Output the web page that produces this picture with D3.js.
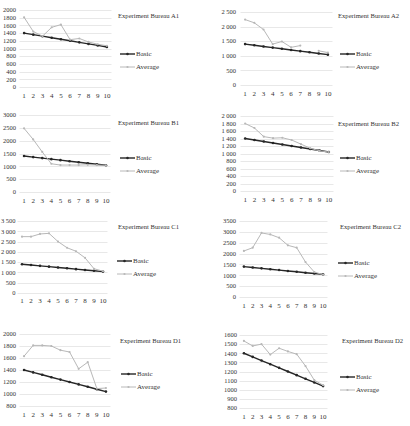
<!DOCTYPE html>
<html>
<head>
<meta charset="utf-8">
<script src="https://cdn.jsdelivr.net/npm/d3@7"></script>
<style>
  body { margin: 0; background: #fff; }
  svg text { font-family: "Liberation Serif", "DejaVu Serif", serif; fill: #333; }
</style>
</head>
<body>
<div id="chart"></div>
<script>
// iteration steps on the x axis
const steps = [1, 2, 3, 4, 5, 6, 7, 8, 9, 10];

// the "Basic" series is the same in every panel
const basic = [1400, 1360, 1320, 1280, 1240, 1200, 1160, 1120, 1080, 1040];

// "Average" series, one per experiment bureau (null = no value)
const avgA1 = [1810, 1440, 1320, 1550, 1620, 1230, 1260, 1170, 1110, 1070];
const avgA2 = [2240, 2130, 1900, 1400, 1490, 1290, 1350, null, 1170, 1110];
const avgB1 = [2480, 2050, 1560, 1100, 1050, 1050, 1050, 1060, 1050, 1040];
const avgB2 = [1800, 1680, 1450, 1410, 1420, 1360, 1250, 1140, 1070, 1040];
const avgC1 = [2740, 2740, 2870, 2900, 2500, 2200, 2030, 1710, 1180, 1060];
const avgC2 = [2120, 2270, 2950, 2880, 2730, 2380, 2270, 1610, 1150, 1030];
const avgD1 = [1630, 1810, 1810, 1800, 1730, 1700, 1420, 1530, 1090, 1100];
const avgD2 = [1535, 1480, 1500, 1385, 1455, 1420, 1390, 1260, 1105, 1050];

const titles = ["Experiment Bureau A1", "Experiment Bureau A2", "Experiment Bureau B1", "Experiment Bureau B2",
                "Experiment Bureau C1", "Experiment Bureau C2", "Experiment Bureau D1", "Experiment Bureau D2"];
const legendNames = ["Basic", "Average"];

// y tick values per panel
const ticksA1 = d3.range(0, 2001, 200);
const ticksA2 = d3.range(0, 2501, 500);
const ticksB1 = d3.range(0, 3001, 500);
const ticksB2 = d3.range(0, 2001, 200);
const ticksC1 = d3.range(0, 3501, 500);
const ticksC2 = d3.range(0, 3501, 500);
const ticksD1 = d3.range(800, 2001, 200);
const ticksD2 = d3.range(800, 1601, 100);

const plain = d => String(d);
const spaced = d => d3.format(",")(d).replace(/,/g, " ");

// layout of each panel (panel origin, grid box, title and legend spots)
const panels = [
  { title: titles[0], avg: avgA1, ticks: ticksA1, fmt: plain,  ox: 0,   oy: 0,   gx0: 19.5, gx1: 111.5, top: 10, bot: 87, lab: 16, xl: 98,  tx: 118, ty: 16, lx: 120, ly: 54 },
  { title: titles[1], avg: avgA2, ticks: ticksA2, fmt: spaced, ox: 205, oy: 0,   gx0: 35.5, gx1: 127.5, top: 12, bot: 85, lab: 31, xl: 96,  tx: 133, ty: 16, lx: 135, ly: 54 },
  { title: titles[2], avg: avgB1, ticks: ticksB1, fmt: plain,  ox: 0,   oy: 100, gx0: 19.5, gx1: 110.5, top: 15, bot: 92, lab: 16, xl: 103, tx: 118, ty: 23, lx: 120, ly: 58 },
  { title: titles[3], avg: avgB2, ticks: ticksB2, fmt: spaced, ox: 205, oy: 100, gx0: 35.5, gx1: 128.5, top: 16, bot: 91, lab: 31, xl: 102, tx: 133, ty: 24, lx: 135, ly: 58 },
  { title: titles[4], avg: avgC1, ticks: ticksC1, fmt: spaced, ox: 0,   oy: 210, gx0: 17.5, gx1: 107.5, top: 11, bot: 83, lab: 15.5, xl: 93, tx: 118, ty: 17, lx: 117, ly: 51 },
  { title: titles[5], avg: avgC2, ticks: ticksC2, fmt: plain,  ox: 205, oy: 210, gx0: 34.5, gx1: 122.5, top: 11, bot: 87, lab: 31, xl: 98,  tx: 135, ty: 17, lx: 133, ly: 53 },
  { title: titles[6], avg: avgD1, ticks: ticksD1, fmt: plain,  ox: 0,   oy: 320, gx0: 19.5, gx1: 110.5, top: 14, bot: 86, lab: 16, xl: 97,  tx: 120, ty: 21, lx: 121, ly: 54 },
  { title: titles[7], avg: avgD2, ticks: ticksD2, fmt: plain,  ox: 205, oy: 320, gx0: 34.5, gx1: 122.5, top: 15, bot: 88, lab: 32, xl: 99,  tx: 137, ty: 21, lx: 135, ly: 57 }
];

const basicColor = "#262626", avgColor = "#b8b8b8", gridColor = "#e2e2e2";

const svg = d3.select("#chart").append("svg")
  .attr("width", 410)
  .attr("height", 426);

panels.forEach(p => {
  const g = svg.append("g").attr("transform", "translate(" + p.ox + "," + p.oy + ")");

  const x = d3.scalePoint().domain(steps).range([p.gx0, p.gx1]).padding(0.5);
  const y = d3.scaleLinear().domain(d3.extent(p.ticks)).range([p.bot, p.top]);

  // gridlines
  g.append("g")
    .selectAll("line")
    .data(p.ticks)
    .join("line")
    .attr("x1", p.gx0).attr("x2", p.gx1)
    .attr("y1", d => Math.round(y(d)) + 0.5).attr("y2", d => Math.round(y(d)) + 0.5)
    .attr("stroke", gridColor).attr("stroke-width", 0.8);

  // y labels
  g.append("g")
    .selectAll("text")
    .data(p.ticks)
    .join("text")
    .attr("x", p.lab).attr("y", d => y(d))
    .attr("dy", "0.35em")
    .attr("text-anchor", "end")
    .attr("font-size", 6.5)
    .text(p.fmt);

  // x labels
  g.append("g")
    .selectAll("text")
    .data(steps)
    .join("text")
    .attr("x", d => x(d)).attr("y", p.xl)
    .attr("text-anchor", "middle")
    .attr("font-size", 7)
    .text(d => d);

  const line = d3.line()
    .defined(d => d[1] != null)
    .x(d => x(d[0]))
    .y(d => y(d[1]));

  const series = [
    { vals: basic, color: basicColor, w: 1.4, r: 1.3 },
    { vals: p.avg, color: avgColor, w: 1, r: 1.1 }
  ];

  series.forEach(s => {
    const pts = steps.map((st, i) => [st, s.vals[i]]);
    g.append("path")
      .datum(pts)
      .attr("fill", "none")
      .attr("stroke", s.color)
      .attr("stroke-width", s.w)
      .attr("d", line);
    g.append("g")
      .selectAll("circle")
      .data(pts.filter(d => d[1] != null))
      .join("circle")
      .attr("cx", d => x(d[0])).attr("cy", d => y(d[1]))
      .attr("r", s.r)
      .attr("fill", s.color);
  });

  // title (narrow, like the original's condensed face)
  g.append("text")
    .attr("x", p.tx).attr("y", p.ty)
    .attr("dy", "0.35em")
    .attr("font-size", 7)
    .attr("textLength", 61)
    .attr("lengthAdjust", "spacingAndGlyphs")
    .text(p.title);

  // legend
  const leg = g.append("g").attr("transform", "translate(" + p.lx + "," + p.ly + ")");
  series.forEach((s, i) => {
    const row = leg.append("g").attr("transform", "translate(0," + (i * 13) + ")");
    row.append("line")
      .attr("x1", 0).attr("x2", 15)
      .attr("stroke", s.color).attr("stroke-width", s.w);
    row.append("circle").attr("cx", 7.5).attr("r", s.r).attr("fill", s.color);
    row.append("text")
      .attr("x", 16).attr("dy", "0.35em")
      .attr("font-size", 7)
      .text(legendNames[i]);
  });
});
</script>
</body>
</html>
